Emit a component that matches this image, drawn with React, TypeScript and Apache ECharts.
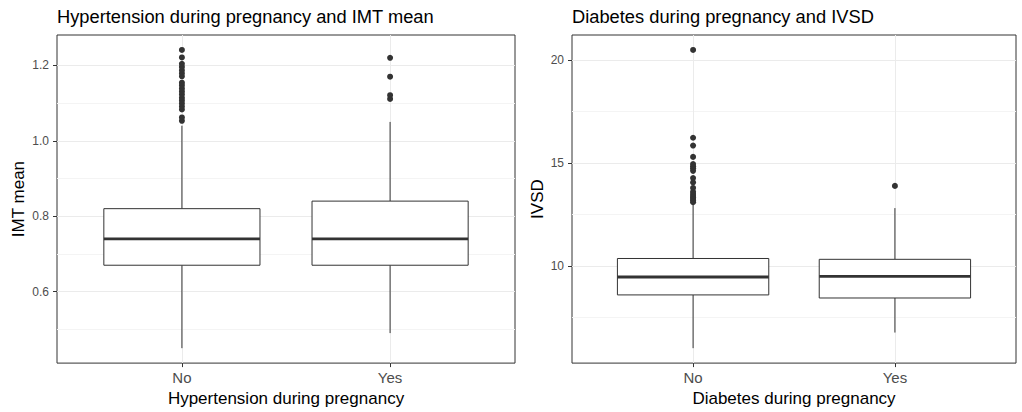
import React, { useEffect, useRef } from "react";
import * as echarts from "echarts";

// Group labels shared by both panels (x = 1, 2)
const groups = ["No", "Yes"];

// IMT mean by hypertension during pregnancy: [lower whisker, Q1, median, Q3, upper whisker]
const imtStats = [
  [0.45, 0.67, 0.74, 0.82, 1.04],
  [0.49, 0.67, 0.74, 0.84, 1.05],
];
const imtOutliersNo = [
  1.053, 1.062, 1.083, 1.091, 1.099, 1.107, 1.114, 1.123, 1.131, 1.139,
  1.147, 1.154, 1.171, 1.179, 1.187, 1.196, 1.204, 1.221, 1.241,
];
const imtOutliersYes = [1.111, 1.121, 1.17, 1.22];
const imtMajor = [0.6, 0.8, 1.0, 1.2];
const imtMinor = [0.5, 0.7, 0.9, 1.1];

// IVSD by diabetes during pregnancy
const ivsdStats = [
  [6.0, 8.59, 9.46, 10.36, 13.02],
  [6.76, 8.44, 9.49, 10.32, 12.81],
];
const ivsdOutliersNo = [
  13.1, 13.18, 13.25, 13.33, 13.4, 13.5, 13.6, 13.79, 14.06, 14.27,
  14.62, 14.75, 14.85, 14.95, 15.3, 15.85, 16.23, 20.5,
];
const ivsdOutliersYes = [13.89];
const ivsdMajor = [10, 15, 20];
const ivsdMinor = [7.5, 12.5, 17.5];

const FONT = "'Liberation Sans', Arial, sans-serif";
const INK = "#333333";

// ggplot-style 5% expansion of the data range
function expandRange(stats: number[][], outliers: number[][]) {
  const all = stats.flat().concat(outliers.flat());
  const lo = Math.min(...all);
  const hi = Math.max(...all);
  const pad = (hi - lo) * 0.05;
  return [lo - pad, hi + pad];
}

function renderBox(params: any, api: any) {
  const x = api.value(0);
  const lo = api.value(1);
  const q1 = api.value(2);
  const med = api.value(3);
  const q3 = api.value(4);
  const hi = api.value(5);
  const half = 0.375;
  const c = (xv: number, yv: number) => api.coord([xv, yv]);
  const pLo = c(x, lo);
  const pQ1 = c(x, q1);
  const pQ3 = c(x, q3);
  const pHi = c(x, hi);
  const tl = c(x - half, q3);
  const br = c(x + half, q1);
  const ml = c(x - half, med);
  const mr = c(x + half, med);
  return {
    type: "group",
    children: [
      {
        type: "line",
        shape: { x1: pLo[0], y1: pLo[1], x2: pQ1[0], y2: pQ1[1] },
        style: { stroke: INK, lineWidth: 1 },
      },
      {
        type: "line",
        shape: { x1: pQ3[0], y1: pQ3[1], x2: pHi[0], y2: pHi[1] },
        style: { stroke: INK, lineWidth: 1 },
      },
      {
        type: "rect",
        shape: { x: tl[0], y: tl[1], width: br[0] - tl[0], height: br[1] - tl[1] },
        style: { fill: "#ffffff", stroke: INK, lineWidth: 1 },
      },
      {
        type: "line",
        shape: { x1: ml[0], y1: ml[1], x2: mr[0], y2: mr[1] },
        style: { stroke: INK, lineWidth: 2.8 },
      },
    ],
  };
}

function panelAxes(gridIndex: number, range: number[], major: number[], minor: number[], xName: string, yName: string, yGap: number) {
  const xAxis = {
    type: "value",
    gridIndex,
    min: 0.4,
    max: 2.6,
    axisLine: { show: false },
    axisTick: { show: true, length: 4, customValues: [1, 2], lineStyle: { color: INK } },
    axisLabel: {
      customValues: [1, 2],
      formatter: (v: number) => groups[Math.round(v) - 1] ?? "",
      color: "#4D4D4D",
      fontSize: 15,
      fontFamily: FONT,
      margin: 7,
    },
    splitLine: { show: true, lineStyle: { color: "#EBEBEB", width: 1 } },
    name: xName,
    nameLocation: "middle",
    nameGap: 25,
    nameTextStyle: { color: "#000", fontSize: 17, fontFamily: FONT },
  };
  const yMain = {
    type: "value",
    gridIndex,
    min: range[0],
    max: range[1],
    axisLine: { show: false },
    axisTick: { show: true, length: 4, customValues: major, lineStyle: { color: INK } },
    axisLabel: {
      customValues: major,
      formatter: (v: number) => (Number.isInteger(v) && range[1] > 5 ? String(v) : v.toFixed(1)),
      color: "#4D4D4D",
      fontSize: 12,
      fontFamily: FONT,
      margin: 8,
    },
    splitLine: { show: true, lineStyle: { color: "#EBEBEB", width: 1 } },
    name: yName,
    nameLocation: "middle",
    nameGap: yGap,
    nameTextStyle: { color: "#000", fontSize: 17, fontFamily: FONT },
  };
  const yMinor = {
    type: "value",
    gridIndex,
    min: range[0],
    max: range[1],
    position: "left",
    axisLine: { show: false },
    axisTick: { show: false, customValues: minor },
    axisLabel: { show: false, customValues: minor },
    splitLine: { show: true, lineStyle: { color: "#F4F4F4", width: 1 } },
  };
  return { xAxis, yAxes: [yMain, yMinor] };
}

export default function App() {
  const ref = useRef<HTMLDivElement>(null);

  useEffect(() => {
    if (!ref.current) return;
    const chart = echarts.init(ref.current, undefined, { renderer: "svg" });

    const imtRange = expandRange(imtStats, [imtOutliersNo, imtOutliersYes]);
    const ivsdRange = expandRange(ivsdStats, [ivsdOutliersNo, ivsdOutliersYes]);

    const left = panelAxes(0, imtRange, imtMajor, imtMinor, "Hypertension during pregnancy", "IMT mean", 30);
    const right = panelAxes(1, ivsdRange, ivsdMajor, ivsdMinor, "Diabetes during pregnancy", "IVSD", 26);

    const outlierPoints = (list: number[], x: number) => list.map((v) => [x, v]);

    chart.setOption({
      animation: false,
      backgroundColor: "#ffffff",
      title: [
        {
          text: "Hypertension during pregnancy and IMT mean",
          left: 57,
          top: 7,
          padding: 0,
          textStyle: { color: "#000", fontSize: 18.3, fontWeight: "normal", fontFamily: FONT },
        },
        {
          text: "Diabetes during pregnancy and IVSD",
          left: 572,
          top: 7,
          padding: 0,
          textStyle: { color: "#000", fontSize: 18.3, fontWeight: "normal", fontFamily: FONT },
        },
      ],
      grid: [
        { left: 57, top: 35, width: 458, height: 331, show: true, borderColor: INK, borderWidth: 1, backgroundColor: "transparent" },
        { left: 572, top: 35, width: 444, height: 331, show: true, borderColor: INK, borderWidth: 1, backgroundColor: "transparent" },
      ],
      xAxis: [left.xAxis, right.xAxis],
      yAxis: [...left.yAxes, ...right.yAxes],
      series: [
        {
          type: "custom",
          xAxisIndex: 0,
          yAxisIndex: 0,
          renderItem: renderBox,
          encode: { x: 0, y: [1, 2, 3, 4, 5] },
          data: imtStats.map((s, i) => [i + 1, ...s]),
          silent: true,
          z: 2,
        },
        {
          type: "scatter",
          xAxisIndex: 0,
          yAxisIndex: 0,
          data: [...outlierPoints(imtOutliersNo, 1), ...outlierPoints(imtOutliersYes, 2)],
          symbolSize: 6,
          itemStyle: { color: INK, opacity: 1 },
          silent: true,
          z: 3,
        },
        {
          type: "custom",
          xAxisIndex: 1,
          yAxisIndex: 2,
          renderItem: renderBox,
          encode: { x: 0, y: [1, 2, 3, 4, 5] },
          data: ivsdStats.map((s, i) => [i + 1, ...s]),
          silent: true,
          z: 2,
        },
        {
          type: "scatter",
          xAxisIndex: 1,
          yAxisIndex: 2,
          data: [...outlierPoints(ivsdOutliersNo, 1), ...outlierPoints(ivsdOutliersYes, 2)],
          symbolSize: 6,
          itemStyle: { color: INK, opacity: 1 },
          silent: true,
          z: 3,
        },
      ],
    });

    return () => chart.dispose();
  }, []);

  return (
    <div
      ref={ref}
      style={{ position: "absolute", left: 0, top: 0, width: 1022, height: 412, background: "#fff" }}
    />
  );
}
